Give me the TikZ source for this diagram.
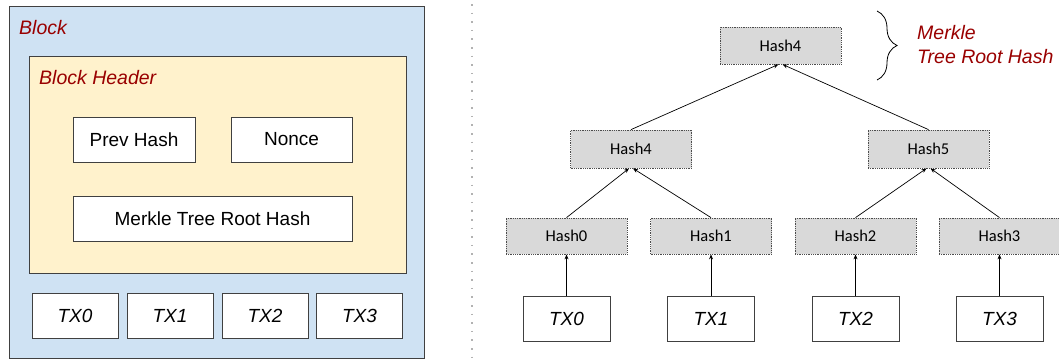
\documentclass[tikz,border=0pt]{standalone}
\usepackage{fontspec}
\setmainfont{Liberation Sans}
\newfontfamily\hashfont{Carlito}
\usetikzlibrary{arrows.meta,decorations.pathreplacing}
\definecolor{blockblue}{HTML}{CFE2F3}
\definecolor{headeryellow}{HTML}{FFF2CC}
\definecolor{labelred}{HTML}{990000}
\definecolor{hashgray}{HTML}{D9D9D9}

\begin{document}
\begin{tikzpicture}[x=1pt,y=-1pt,
  box/.style={draw=black!75,line width=0.9pt,fill=white,inner sep=0pt,
    minimum height=45pt,font=\fontsize{19}{22}\selectfont},
  txbox/.style={box,minimum width=86pt,font=\fontsize{19}{22}\selectfont\itshape},
  hashbox/.style={draw=black!70,densely dotted,line width=0.8pt,fill=hashgray,
    inner sep=0pt,minimum width=121pt,minimum height=37pt,
    font=\hashfont\fontsize{16.5}{19}\selectfont},
  title/.style={anchor=west,text=labelred,inner sep=0pt,
    font=\fontsize{19.5}{24}\selectfont\itshape},
  edge/.style={line width=0.7pt,-{Stealth[length=5pt,width=4pt]}}]
\useasboundingbox (0,0) rectangle (1059,360);

% block on the left
\node[draw=black!75,line width=0.9pt,fill=blockblue,minimum width=415pt,
  minimum height=352pt,inner sep=0pt] (block) at (216.5,182) {};
\node[title] (blocklabel) at (19,28) {Block};
\node[draw=black!75,line width=0.9pt,fill=headeryellow,minimum width=377pt,
  minimum height=217pt,inner sep=0pt] (header) at (217.5,164.5) {};
\node[title] (headerlabel) at (39,78) {Block Header};
\node[box,minimum width=122pt] (prev) at (134,139.5) {Prev Hash};
\node[box,minimum width=121pt] (nonce) at (291.5,139.5) {Nonce};
\node[box,minimum width=279pt] (root) at (212.5,218.5) {Merkle Tree Root Hash};
\node[txbox] (btx0) at (75,315.5) {TX0};
\node[txbox] (btx1) at (170,315.5) {TX1};
\node[txbox] (btx2) at (265,315.5) {TX2};
\node[txbox] (btx3) at (359.5,315.5) {TX3};

% divider
\draw[black!30,line width=1.6pt,dash pattern=on 1.6pt off 7pt] (472,4) -- (472,358);

% merkle tree
\node[hashbox] (top) at (780.5,45.5) {Hash4};
\node[hashbox,minimum height=38pt] (h4) at (631,149) {Hash4};
\node[hashbox,minimum height=38pt] (h5) at (928.5,149) {Hash5};
\node[hashbox,minimum height=36pt] (h0) at (566.5,236) {Hash0};
\node[hashbox,minimum height=36pt] (h1) at (711,236) {Hash1};
\node[hashbox,minimum height=36pt] (h2) at (855.5,236) {Hash2};
\node[hashbox,minimum height=36pt] (h3) at (999.5,236) {Hash3};
\node[txbox,minimum width=87pt] (tx0) at (566.5,318.5) {TX0};
\node[txbox,minimum width=87pt] (tx1) at (711,318.5) {TX1};
\node[txbox,minimum width=87pt] (tx2) at (855.5,318.5) {TX2};
\node[txbox,minimum width=87pt] (tx3) at (999.5,318.5) {TX3};

\draw[edge] (tx0) -- (h0);
\draw[edge] (tx1) -- (h1);
\draw[edge] (tx2) -- (h2);
\draw[edge] (tx3) -- (h3);
\draw[edge] (h0.north) -- ([xshift=-2pt]h4.south);
\draw[edge] (h1.north) -- ([xshift=2pt]h4.south);
\draw[edge] (h2.north) -- ([xshift=-2pt]h5.south);
\draw[edge] (h3.north) -- ([xshift=2pt]h5.south);
\draw[edge] (h4.north) -- ([xshift=-2pt]top.south);
\draw[edge] (h5.north) -- ([xshift=2pt]top.south);

% brace and root label
\coordinate (bracetop) at (877,11);
\coordinate (bracebot) at (877,80);
\draw[line width=0.8pt,decorate,decoration={brace,amplitude=20pt}] (bracetop) -- (bracebot);
\node[title,align=left] (rootlabel) at (917,45) {Merkle\\Tree Root Hash};
\end{tikzpicture}
\end{document}
